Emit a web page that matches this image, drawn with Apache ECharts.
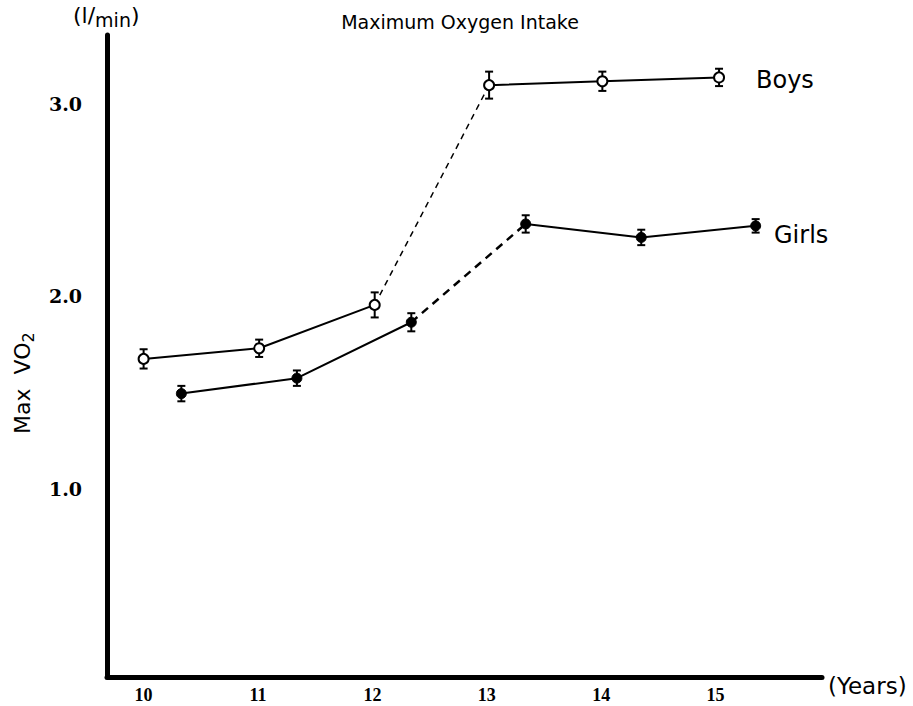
<!DOCTYPE html>
<html>
<head>
<meta charset="utf-8">
<script src="https://cdn.jsdelivr.net/npm/echarts@6/dist/echarts.min.js"></script>
<style>
html,body{margin:0;padding:0;background:#fff;}
#chart{width:913px;height:706px;}
</style>
</head>
<body>
<div id="chart"></div>
<script>
// ---- data ----
const boysAge  = [10.0, 11.01, 12.02, 13.02, 14.01, 15.03];
const boysMean = [1.65, 1.705, 1.93, 3.07, 3.09, 3.11];
const boysErr  = [0.05, 0.045, 0.065, 0.07, 0.05, 0.045];
const girlsAge  = [10.33, 11.34, 12.34, 13.34, 14.35, 15.35];
const girlsMean = [1.47, 1.55, 1.84, 2.35, 2.28, 2.34];
const girlsErr  = [0.04, 0.04, 0.047, 0.045, 0.04, 0.035];
const xTicks = [10, 11, 12, 13, 14, 15];
const yTicks = [1, 2, 3];
const dashedFrom = 2; // segment between index 2 and 3 is dashed

function pts(ages, vals, a, b) {
  const out = [];
  for (let i = a; i <= b; i++) out.push([ages[i], vals[i]]);
  return out;
}
function errData(ages, vals, errs) {
  return ages.map((a, i) => [a, vals[i] - errs[i], vals[i] + errs[i]]);
}
const n = boysAge.length - 1;

const solid = {color: '#000', width: 2};
function lineSeries(data, style) {
  return {type: 'line', data: data, showSymbol: false, symbol: 'none',
          lineStyle: style, z: 2, animation: false, silent: true};
}
function errSeries(data) {
  return {
    type: 'custom', data: data, z: 3, animation: false, silent: true,
    renderItem: function (params, api) {
      const x = api.value(0);
      const lo = api.coord([x, api.value(1)]);
      const hi = api.coord([x, api.value(2)]);
      const w = 4;
      const st = {stroke: '#000', lineWidth: 2};
      return {type: 'group', children: [
        {type: 'line', shape: {x1: lo[0], y1: lo[1], x2: hi[0], y2: hi[1]}, style: st},
        {type: 'line', shape: {x1: lo[0] - w, y1: lo[1], x2: lo[0] + w, y2: lo[1]}, style: st},
        {type: 'line', shape: {x1: hi[0] - w, y1: hi[1], x2: hi[0] + w, y2: hi[1]}, style: st}
      ]};
    }
  };
}

const chart = echarts.init(document.getElementById('chart'), null, {renderer: 'svg'});
chart.setOption({
  backgroundColor: '#fff',
  animation: false,
  title: {
    text: 'Maximum Oxygen Intake', left: 455, top: 7, textAlign: 'center',
    textStyle: {fontFamily: 'DejaVu Sans', fontSize: 19, fontWeight: 'normal', color: '#000'}
  },
  grid: {left: 107, right: 91, top: 35, bottom: 29, containLabel: false},
  xAxis: {
    type: 'value', min: 9.68, max: 15.93,
    axisLine: {show: true, lineStyle: {color: '#000', width: 5}},
    axisTick: {show: false},
    splitLine: {show: false},
    axisLabel: {
      customValues: xTicks, margin: 9,
      fontFamily: 'Liberation Serif', fontWeight: 'bold', fontSize: 18, color: '#000'
    }
  },
  yAxis: {
    type: 'value', min: 0, max: 3.33,
    axisLine: {show: true, lineStyle: {color: '#000', width: 5}},
    axisTick: {show: false},
    splitLine: {show: false},
    axisLabel: {
      customValues: yTicks, margin: 25,
      formatter: v => '{a|' + v.toFixed(1) + '}',
      rich: {a: {fontFamily: 'DejaVu Serif', fontWeight: 'bold', fontSize: 19, color: '#000', padding: [10, 0, 0, 0]}}
    }
  },
  graphic: [
    {type: 'text', left: 828, top: 674, style: {text: '(Years)', fontFamily: 'DejaVu Sans', fontSize: 23, fill: '#000'}},
    {type: 'text', left: 756, top: 68, style: {text: 'Boys', fontFamily: 'DejaVu Sans', fontSize: 24, fill: '#000'}},
    {type: 'text', left: 774, top: 223, style: {text: 'Girls', fontFamily: 'DejaVu Sans', fontSize: 24, fill: '#000'}},
    {type: 'text', left: 73, top: 4, style: {
      text: '(l/{s|min})', fontFamily: 'DejaVu Sans', fontSize: 22, fill: '#000',
      rich: {s: {fontFamily: 'DejaVu Sans', fontSize: 19, fill: '#000', padding: [9, 0, 0, 0]}}
    }},
    {type: 'text', x: 8, y: 434, rotation: Math.PI / 2, style: {
      text: 'Max  VO{s|2}', fontFamily: 'DejaVu Sans', fontSize: 22, fill: '#000',
      rich: {s: {fontFamily: 'DejaVu Sans', fontSize: 16, fill: '#000', padding: [12, 0, 0, 0]}}
    }}
  ],
  series: [
    lineSeries(pts(boysAge, boysMean, 0, dashedFrom), solid),
    lineSeries(pts(boysAge, boysMean, dashedFrom, dashedFrom + 1), {color: '#000', width: 1.5, type: [6, 5]}),
    lineSeries(pts(boysAge, boysMean, dashedFrom + 1, n), solid),
    lineSeries(pts(girlsAge, girlsMean, 0, dashedFrom), solid),
    lineSeries(pts(girlsAge, girlsMean, dashedFrom, dashedFrom + 1), {color: '#000', width: 2.5, type: [8, 6]}),
    lineSeries(pts(girlsAge, girlsMean, dashedFrom + 1, n), solid),
    errSeries(errData(boysAge, boysMean, boysErr)),
    errSeries(errData(girlsAge, girlsMean, girlsErr)),
    {type: 'scatter', data: pts(boysAge, boysMean, 0, n), symbol: 'circle', symbolSize: 10, z: 5,
     itemStyle: {color: '#fff', borderColor: '#000', borderWidth: 2, opacity: 1}, silent: true},
    {type: 'scatter', data: pts(girlsAge, girlsMean, 0, n), symbol: 'circle', symbolSize: 10, z: 5,
     itemStyle: {color: '#000', borderColor: '#000', borderWidth: 1, opacity: 1}, silent: true}
  ]
});
</script>
</body>
</html>
